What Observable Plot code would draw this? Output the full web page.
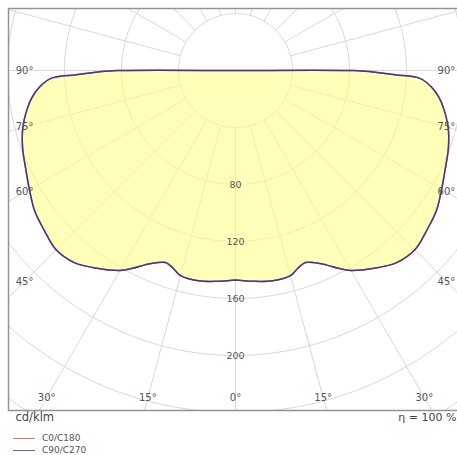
<!DOCTYPE html>
<html><head><meta charset="utf-8">
<script src="https://cdn.jsdelivr.net/npm/d3@7"></script>
<script src="https://cdn.jsdelivr.net/npm/@observablehq/plot@0.6"></script>
<style>
body{margin:0;background:#fff;font-family:"DejaVu Sans",sans-serif;}
#chart{position:absolute;left:0;top:0;}
#legend{position:absolute;left:13px;top:432px;font-size:9px;color:#555;}
.row{display:flex;align-items:center;height:12px;}
.sw{display:inline-block;width:22px;height:0;border-top:1px solid;margin-right:7px;}
</style></head><body>
<div id="chart"></div>
<div id="legend"></div>
<script>
// ---- data (cd/klm) ----
const gammas  = [0, 5, 10, 15, 17.5, 20, 22.5, 25, 27.5, 30, 35, 40, 45, 50, 55, 60, 65, 70, 75, 80, 82.5, 85, 87.5, 88.5, 89.5, 90];
const c0c180  = [147, 148.5, 149.8, 149, 145.5, 143.4, 146, 150.5, 156.5, 162, 169.4, 176, 178, 175, 172, 167, 162.5, 159, 154.5, 148, 144, 138.5, 130, 112, 95, 83];
const c90c270 = [147, 148.5, 149.8, 149, 145.5, 143.4, 146, 150.5, 156.5, 162, 169.4, 176, 178, 175, 172, 167, 162.5, 159, 154.5, 148, 144, 138.5, 130, 112, 95, 83];
const series = ["C0/C180", "C90/C270"];
const seriesColors = ["#e06666", "#41398a"];
const ringValues = [40, 80, 120, 160, 200, 240, 280];
const ringLabels = [80, 120, 160, 200];
const gridAngles = [0,15,30,45,60,75,90,105,120,135,150,165,180,195,210,225,240,255,270,285,300,315,330,345];
const angleTicks = [-90,-75,-60,-45,-30,-15,0,15,30,45,60,75,90];
const unitLabel = "cd/klm";
const effLabel = "η = 100 %";

// ---- layout ----
const W = 457, H = 428, CX = 235, CY = 70, K = 1.425;
const rad = a => a * Math.PI / 180;
const px = (r, a) => r * Math.sin(rad(a));
const py = (r, a) => r * Math.cos(rad(a));

function curve(values) {
  const pts = [{x: 0, y: 0}];
  for (let i = gammas.length - 1; i >= 0; i--) pts.push({x: px(values[i], -gammas[i]), y: py(values[i], -gammas[i])});
  for (let i = 0; i < gammas.length; i++) pts.push({x: px(values[i], gammas[i]), y: py(values[i], gammas[i])});
  pts.push({x: 0, y: 0});
  return pts;
}
const curves = [curve(c0c180), curve(c90c270)];

const ringPts = ringValues.flatMap(r => d3.range(0, 361, 2).map(t => ({r, x: px(r, t), y: py(r, t)})));
const inset = {x: 148, y: 229.5};
const tickPos = angleTicks.map(a => {
  const s = Math.abs(Math.sin(rad(a))), c = Math.cos(rad(a));
  const r = Math.min(s > 1e-6 ? inset.x / s : Infinity, c > 1e-6 ? inset.y / c : Infinity);
  return {a, x: px(r, a), y: py(r, a), label: Math.abs(a) + "°"};
});

const gridColor = "#d8d8d8";
const font = "DejaVu Sans";

const chart = Plot.plot({
  width: W, height: H,
  marginTop: 8, marginLeft: 8, marginRight: -3, marginBottom: H - 410,
  x: {domain: [-CX / K, (W - CX) / K], range: [0, W], axis: null},
  y: {domain: [-CY / K, (H - CY) / K], range: [0, H], axis: null},
  style: {fontFamily: font, background: "#fff"},
  marks: [
    Plot.line(ringPts, {x: "x", y: "y", z: "r", stroke: gridColor, strokeWidth: 1, clip: true}),
    Plot.link(gridAngles, {x1: a => px(40, a), y1: a => py(40, a), x2: a => px(500, a), y2: a => py(500, a), stroke: gridColor, strokeWidth: 1, clip: true}),
    Plot.line(curves[1], {x: "x", y: "y", fill: "#ffff8c", fillOpacity: 0.6, stroke: "none", curve: "catmull-rom"}),
    ...curves.map((c, i) => Plot.line(c, {x: "x", y: "y", stroke: seriesColors[i], strokeWidth: 1.5, curve: "catmull-rom", clip: true})),
    Plot.text(ringLabels, {x: 0, y: d => d, text: d => String(d), fontSize: 9.5, fill: "#555"}),
    Plot.text(tickPos, {x: "x", y: "y", text: "label", fontSize: 10, fill: "#555"}),
    Plot.frame({stroke: "#939393", strokeWidth: 1.5}),
    Plot.text([unitLabel], {text: d => d, frameAnchor: "bottom-left", dx: 7, dy: 10, textAnchor: "start", fontSize: 11.5, fill: "#444"}),
    Plot.text([effLabel], {text: d => d, frameAnchor: "bottom-right", dx: -4, dy: 10, textAnchor: "end", fontSize: 11, fill: "#444"})
  ]
});
document.getElementById("chart").appendChild(chart);

const leg = document.getElementById("legend");
series.forEach((s, i) => {
  const row = document.createElement("div");
  row.className = "row";
  const sw = document.createElement("span");
  sw.className = "sw";
  sw.style.borderTopColor = i === 0 ? "#e07070" : "#6a64b0";
  row.appendChild(sw);
  row.appendChild(document.createTextNode(s));
  leg.appendChild(row);
});
</script>
</body></html>
